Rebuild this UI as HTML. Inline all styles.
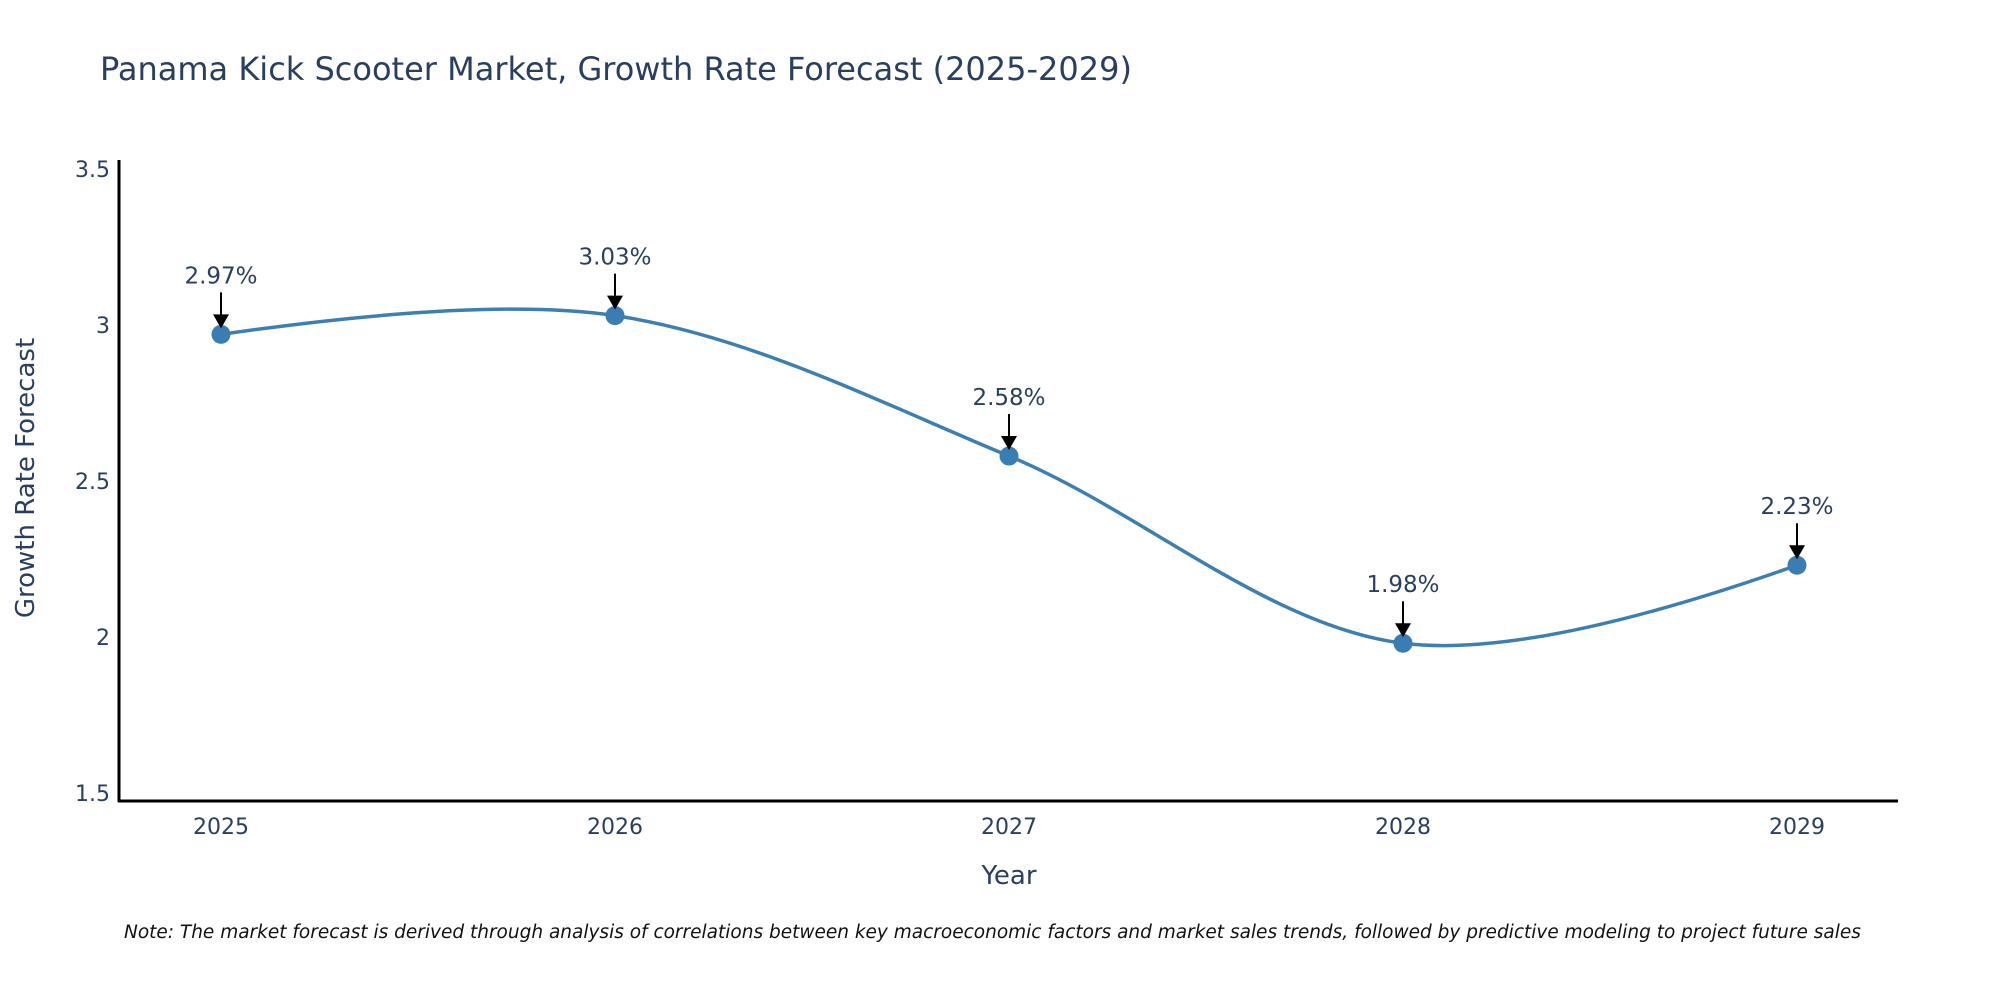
<!DOCTYPE html>
<html><head><meta charset="utf-8"><style>
body{margin:0;background:#fff}
svg text{font-family:"DejaVu Sans","Liberation Sans",sans-serif}
</style></head><body>
<svg id="chart" width="2000" height="1000" xmlns="http://www.w3.org/2000/svg">
<rect width="2000" height="1000" fill="#fff"/>
<text x="100" y="80" font-size="32" fill="#2a3f5f">Panama Kick Scooter Market, Growth Rate Forecast (2025-2029)</text>
<g id="yticks"></g><g id="xticks"></g>
<line x1="119" y1="160" x2="119" y2="802" stroke="#000" stroke-width="3"/>
<line x1="118" y1="801" x2="1898" y2="801" stroke="#000" stroke-width="3"/>
<text x="1009" y="884" font-size="26" fill="#2a3f5f" text-anchor="middle">Year</text>
<text transform="translate(34,478) rotate(-90)" font-size="26" fill="#2a3f5f" text-anchor="middle">Growth Rate Forecast</text>
<g id="series"></g>
<text x="124" y="938" font-size="18.5" font-style="italic" fill="#111">Note: The market forecast is derived through analysis of correlations between key macroeconomic factors and market sales trends, followed by predictive modeling to project future sales</text>
</svg>
<script>
const years=[2025,2026,2027,2028,2029];
const values=[2.97,3.03,2.58,1.98,2.23];
const yTicks=[1.5,2,2.5,3,3.5];
const yTickLabels=["1.5","2","2.5","3","3.5"];
const NS="http://www.w3.org/2000/svg";
function xs(i){return 221+(i)*394;}
function xYear(y){return xs(y-2025);}
function ys(v){return 325-(v-3)*312;}
function mk(t,a,p){const e=document.createElementNS(NS,t);for(const k in a)e.setAttribute(k,a[k]);p.appendChild(e);return e;}
const yt=document.getElementById('yticks');
yTicks.forEach((v,i)=>{const t=mk('text',{x:110,y:ys(v)+8,'font-size':22,fill:'#2a3f5f','text-anchor':'end'},yt);


t.textContent=yTickLabels[i];});
const xt=document.getElementById('xticks');
years.forEach(y=>{const t=mk('text',{x:xYear(y),y:834,'font-size':22,fill:'#2a3f5f','text-anchor':'middle'},xt);


t.textContent=String(y);});
const pts=years.map((y,i)=>[xYear(y),ys(values[i])]);
function tan(p,c,n,s){const d1x=p[0]-c[0],d1y=p[1]-c[1],d2x=n[0]-c[0],d2y=n[1]-c[1];
const d1a=Math.pow(d1x*d1x+d1y*d1y,0.25),d2a=Math.pow(d2x*d2x+d2y*d2y,0.25);
const nx=(d2a*d2a*d1x-d1a*d1a*d2x)*s,ny=(d2a*d2a*d1y-d1a*d1a*d2y)*s;
const a=3*d2a*(d1a+d2a),b=3*d1a*(d1a+d2a);
return [[c[0]+nx/a,c[1]+ny/a],[c[0]-nx/b,c[1]-ny/b]];}
const T=[];for(let i=1;i<pts.length-1;i++)T.push(tan(pts[i-1],pts[i],pts[i+1],1));
let d='M'+pts[0]+'Q'+T[0][0]+' '+pts[1];
for(let i=2;i<pts.length-1;i++)d+='C'+T[i-2][1]+' '+T[i-1][0]+' '+pts[i];
d+='Q'+T[T.length-1][1]+' '+pts[pts.length-1];
const g=document.getElementById('series');
const ln=mk('path',{d:d,fill:'none',stroke:'#3d7fb0','stroke-width':3.5},g);


pts.forEach((p,i)=>{
const c=mk('circle',{cx:p[0],cy:p[1],r:9.5,fill:'#3a7db3'},g);


const a=mk('line',{x1:p[0],y1:p[1]-42,x2:p[0],y2:p[1]-18,stroke:'#000','stroke-width':2},g);


const h=mk('path',{d:`M${p[0]-8},${p[1]-20}L${p[0]+8},${p[1]-20}L${p[0]},${p[1]-6}Z`,fill:'#000'},g);


const t=mk('text',{x:p[0],y:p[1]-51,'font-size':23,fill:'#2a3f5f','text-anchor':'middle'},g);


t.textContent=values[i].toFixed(2)+'%';
});
</script>
</body></html>
